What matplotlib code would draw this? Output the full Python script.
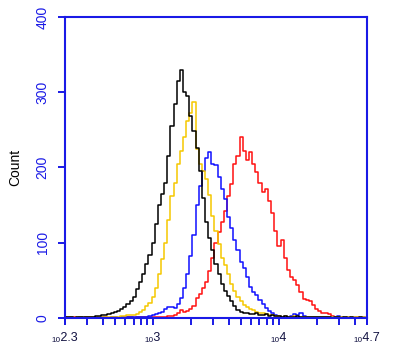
import numpy as np
import matplotlib
matplotlib.use("Agg")
import matplotlib.pyplot as plt
from matplotlib.ticker import FixedLocator, LogLocator, NullFormatter

plt.rcParams['font.family'] = ['Liberation Sans', 'DejaVu Sans']

# channel positions (log10 of fluorescence), 97 channels from 10^2.3 to 10^4.7
channel_log = np.linspace(2.3, 4.7, 97)

black_counts = [1, 2, 1, 0, 1, 2, 1, 1, 2, 2,
                3, 3, 4, 4, 5, 6, 8, 9, 12, 15,
                18, 22, 28, 38, 48, 58, 72, 84, 100, 125,
                150, 165, 180, 215, 255, 285, 315, 330, 300, 295,
                268, 248, 226, 195, 160, 128, 106, 90, 72, 58,
                45, 36, 29, 22, 16, 11, 8, 7, 6, 5,
                5, 6, 4, 4, 5, 3, 4, 3, 3, 2,
                3, 2, 2, 2, 3, 2, 1, 2, 1, 2,
                1, 1, 2, 1, 1, 0, 1, 1, 0, 1,
                0, 1, 0, 0, 1, 0, 0]

yellow_counts = [0, 1, 1, 0, 1, 1, 0, 1, 1, 1,
                 1, 2, 1, 1, 2, 1, 2, 2, 3, 3,
                 4, 4, 4, 5, 8, 11, 16, 20, 28, 40,
                 58, 78, 100, 130, 162, 180, 205, 222, 240, 262,
                 272, 287, 225, 205, 195, 185, 163, 135, 115, 98,
                 80, 70, 58, 45, 36, 28, 22, 17, 14, 12,
                 10, 8, 7, 6, 5, 4, 4, 3, 3, 2,
                 3, 2, 2, 3, 2, 2, 1, 2, 2, 1,
                 2, 1, 1, 2, 1, 1, 2, 1, 1, 1,
                 1, 2, 1, 1, 1, 1, 1]

blue_counts = [0, 0, 1, 0, 0, 1, 0, 0, 0, 1,
               0, 0, 1, 0, 0, 1, 1, 0, 1, 1,
               1, 1, 2, 1, 2, 2, 2, 3, 4, 5,
               6, 8, 12, 14, 15, 13, 18, 26, 40, 58,
               82, 110, 150, 175, 195, 212, 221, 205, 203, 188,
               172, 158, 134, 120, 104, 90, 75, 66, 54, 41,
               34, 30, 24, 18, 13, 9, 6, 4, 3, 2,
               3, 2, 3, 5, 4, 6, 3, 1, 2, 1,
               1, 2, 1, 1, 0, 1, 1, 3, 1, 0,
               1, 0, 1, 0, 0, 1, 0]

red_counts = [1, 0, 1, 1, 0, 1, 0, 1, 1, 0,
              1, 0, 1, 1, 0, 1, 1, 0, 1, 1,
              1, 1, 0, 1, 2, 1, 1, 2, 1, 2,
              1, 2, 1, 3, 3, 4, 7, 10, 8, 9,
              12, 16, 26, 32, 40, 48, 62, 80, 100, 114,
              128, 142, 162, 178, 205, 215, 240, 222, 210, 220,
              205, 194, 180, 168, 172, 155, 140, 116, 96, 104,
              80, 64, 54, 50, 44, 35, 25, 24, 22, 17,
              12, 9, 7, 6, 5, 3, 2, 1, 1, 0,
              1, 0, 0, 1, 0, 0, 0]

x_ticks = [2.3, 3, 4, 4.7]
x_ticklabels = ["\u2081\u20802.3", "\u2081\u20803", "\u2081\u20804", "\u2081\u20804.7"]
y_ticks = [0, 100, 200, 300, 400]

axis_blue = '#1a1ae6'

fig = plt.figure(figsize=(4, 3.51), dpi=100)
ax = fig.add_axes([0.1625, 0.094, 0.755, 0.8576])

fl = 10 ** channel_log
ax.plot(fl, red_counts, color='#ff1010', lw=1.1, drawstyle='steps-mid')
ax.plot(fl, blue_counts, color='#1010ff', lw=1.1, drawstyle='steps-mid')
ax.plot(fl, yellow_counts, color='#f5c800', lw=1.1, drawstyle='steps-mid')
ax.plot(fl, black_counts, color='black', lw=1.1, drawstyle='steps-mid')

ax.set_xscale('log')
ax.set_xlim(10 ** 2.3, 10 ** 4.7)
ax.set_ylim(0, 400)

ax.xaxis.set_major_locator(FixedLocator([10 ** v for v in x_ticks]))
ax.set_xticklabels(x_ticklabels, fontsize=9, color='#101040')
ax.xaxis.set_minor_locator(LogLocator(base=10, subs=np.arange(2, 10)))
ax.xaxis.set_minor_formatter(NullFormatter())

ax.set_yticks(y_ticks)
ax.set_yticklabels([str(v) for v in y_ticks], rotation=90, va='center',
                   fontsize=10, color=axis_blue)

for s in ax.spines.values():
    s.set_color(axis_blue)
    s.set_linewidth(1.5)

ax.tick_params(axis='both', which='both', color=axis_blue, width=1.4,
               direction='out')
ax.tick_params(axis='x', which='both', length=5, pad=5)
ax.tick_params(axis='y', which='major', length=5, pad=6)

ax.set_ylabel('Count', fontsize=10, color='black', labelpad=10)

fig.savefig('out.png', dpi=100)
